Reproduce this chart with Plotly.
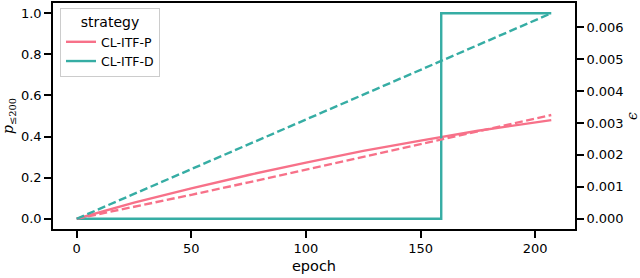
import plotly.graph_objects as go

# ---- data ----
epochs_p = [0, 25, 50, 75, 100, 125, 150, 175, 207]
p_itf_p = [0.0, 0.078, 0.148, 0.213, 0.273, 0.330, 0.380, 0.428, 0.480]
eps_itf_p = [0.0, 0.00037, 0.00075, 0.00114, 0.00154, 0.00193, 0.00233, 0.00274, 0.00325]

epochs_d_step = [0, 159, 159, 207]
p_itf_d = [0.0, 0.0, 1.0, 1.0]
epochs_d_eps = [0, 50, 100, 150, 207]
eps_itf_d = [0.0, 0.00156, 0.00311, 0.00467, 0.00644]

series_names = ["CL-ITF-P", "CL-ITF-D"]
colors = ["#f77189", "#36ada4"]
x_ticks = [0, 50, 100, 150, 200]
y_ticks = [0.0, 0.2, 0.4, 0.6, 0.8, 1.0]
y2_ticks = [0.000, 0.001, 0.002, 0.003, 0.004, 0.005, 0.006]

FONT = "DejaVu Sans"
LW = 2.4
DASH = "8px,3.5px"

fig = go.Figure()
fig.add_trace(go.Scatter(x=epochs_p, y=p_itf_p, mode="lines", name=series_names[0],
                         line=dict(color=colors[0], width=LW), yaxis="y"))
fig.add_trace(go.Scatter(x=epochs_d_step, y=p_itf_d, mode="lines", name=series_names[1],
                         line=dict(color=colors[1], width=LW), yaxis="y"))
fig.add_trace(go.Scatter(x=epochs_p, y=eps_itf_p, mode="lines", name=series_names[0],
                         line=dict(color=colors[0], width=LW, dash=DASH),
                         yaxis="y2", showlegend=False))
fig.add_trace(go.Scatter(x=epochs_d_eps, y=eps_itf_d, mode="lines", name=series_names[1],
                         line=dict(color=colors[1], width=LW, dash=DASH),
                         yaxis="y2", showlegend=False))

axis_common = dict(showgrid=False, zeroline=False, showline=True, linecolor="black",
                   linewidth=1.6, ticks="outside", ticklen=7, tickwidth=1.5,
                   tickcolor="black", automargin=False,
                   tickfont=dict(family=FONT, size=13, color="black"))

fig.update_layout(
    width=640, height=278,
    margin=dict(l=53, r=65, t=3, b=49),
    plot_bgcolor="white", paper_bgcolor="white",
    font=dict(family=FONT, size=13, color="black"),
    xaxis=dict(range=[-10.35, 217.35], tickvals=x_ticks, mirror=True,
               title=dict(text="epoch", font=dict(family=FONT, size=14.5), standoff=5),
               **axis_common),
    yaxis=dict(range=[-0.05, 1.05], tickvals=y_ticks, tickformat=".1f", mirror=True,
               title=dict(text="<i>p</i><sub>≤200</sub>",
                          font=dict(family="DejaVu Serif", size=14), standoff=6),
               **axis_common),
    yaxis2=dict(range=[-0.000322, 0.006762], tickvals=y2_ticks, tickformat=".3f",
                overlaying="y", side="right",
                title=dict(text="<i>ϵ</i>", font=dict(family="DejaVu Serif", size=14), standoff=9),
                **axis_common),
    legend=dict(x=0.0134, y=0.978, xanchor="left", yanchor="top",
                bgcolor="rgba(255,255,255,0.8)", bordercolor="#cccccc", borderwidth=1,
                font=dict(family=FONT, size=12.5),
                title=dict(text="strategy", side="top center", font=dict(family=FONT, size=14)),
                itemwidth=30, tracegroupgap=0),
    showlegend=True,
)

fig.write_html("out.html", config={"displayModeBar": False},
               post_script="document.body.style.margin='0';")
